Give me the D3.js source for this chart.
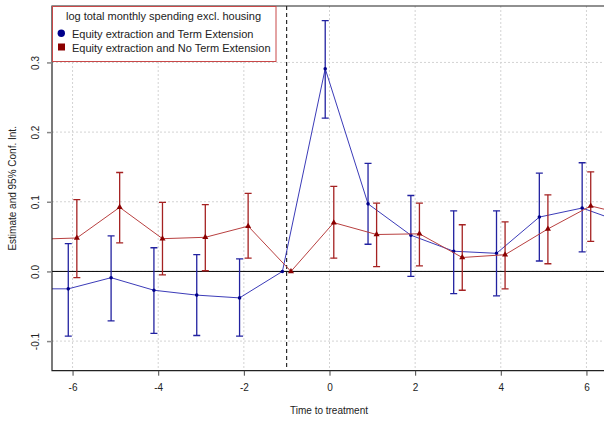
<!DOCTYPE html>
<html>
<head>
<meta charset="utf-8">
<script src="https://cdn.jsdelivr.net/npm/d3@7/dist/d3.min.js"></script>
<style>
  html, body { margin: 0; padding: 0; background: #fff; }
  svg { display: block; font-family: "Liberation Sans", Arial, sans-serif; }
</style>
</head>
<body>
<svg id="chart" width="604" height="422"></svg>
<script>
// Event-study estimates (time to treatment, relative to period -1)
const periods = [-7, -6, -5, -4, -3, -2, -1, 0, 1, 2, 3, 4, 5, 6, 7];

const termExtEst = [-0.025, -0.025, -0.009, -0.027, -0.034, -0.038, 0, 0.291, 0.097, 0.052, 0.029, 0.026, 0.078, 0.091, 0.069];
const termExtLo  = [null, -0.093, -0.071, -0.089, -0.092, -0.093, null, 0.220, 0.039, -0.007, -0.032, -0.035, 0.015, 0.028, null];
const termExtHi  = [null, 0.040, 0.051, 0.034, 0.024, 0.018, null, 0.360, 0.155, 0.109, 0.087, 0.087, 0.141, 0.156, null];

const noTermEst = [0.046, 0.048, 0.092, 0.047, 0.049, 0.065, 0, 0.070, 0.053, 0.054, 0.020, 0.024, 0.061, 0.094, 0.079];
const noTermLo  = [null, -0.009, 0.041, -0.005, 0.001, 0.019, null, 0.019, 0.007, 0.008, -0.027, -0.025, 0.011, 0.043, null];
const noTermHi  = [null, 0.103, 0.142, 0.099, 0.096, 0.112, null, 0.122, 0.098, 0.098, 0.067, 0.071, 0.110, 0.143, null];

const xTicks = [-6, -4, -2, 0, 2, 4, 6];
const yTicks = [-0.1, 0.0, 0.1, 0.2, 0.3];
const referencePeriod = -1;

const legendTitle = "log total monthly spending excl. housing";
const seriesNames = ["Equity extraction and Term Extension", "Equity extraction and No Term Extension"];

const series = [
  { name: seriesNames[0], est: termExtEst, lo: termExtLo, hi: termExtHi, shift: -0.1,
    line: "#3b3bb8", bar: "#2222a0", mark: "#00008b", shape: "circle" },
  { name: seriesNames[1], est: noTermEst, lo: noTermLo, hi: noTermHi, shift: 0.1,
    line: "#b84040", bar: "#a52222", mark: "#8b0000", shape: "triangle" }
];

// plain hyphen-minus for negative tick labels
const hyphen = f => v => f(v).replace("\u2212", "-");

const svg = d3.select("#chart");
const plot = { left: 52, top: 6, right: 604, bottom: 370.7 };

const x = d3.scaleLinear().domain([-6.48, 6.41]).range([plot.left, plot.right]);
const y = d3.scaleLinear().domain([-0.1425, 0.381]).range([plot.bottom, plot.top]);

svg.append("defs").append("clipPath").attr("id", "plotClip")
  .append("rect")
  .attr("x", plot.left).attr("y", plot.top)
  .attr("width", plot.right - plot.left).attr("height", plot.bottom - plot.top);

// grid
const grid = svg.append("g").attr("stroke", "#d3d3d3").attr("stroke-dasharray", "2,2").attr("stroke-width", 1);
xTicks.forEach(t => grid.append("line")
  .attr("x1", x(t)).attr("x2", x(t)).attr("y1", plot.top).attr("y2", plot.bottom));
yTicks.forEach(v => grid.append("line")
  .attr("x1", plot.left).attr("x2", plot.right).attr("y1", y(v)).attr("y2", y(v)));

// zero line and treatment marker
svg.append("line").attr("x1", plot.left).attr("x2", plot.right)
  .attr("y1", y(0)).attr("y2", y(0)).attr("stroke", "#000").attr("stroke-width", 1);
svg.append("line").attr("x1", x(referencePeriod)).attr("x2", x(referencePeriod))
  .attr("y1", plot.top).attr("y2", plot.bottom)
  .attr("stroke", "#000").attr("stroke-width", 1).attr("stroke-dasharray", "4,3");

const marks = svg.append("g").attr("clip-path", "url(#plotClip)");

series.forEach(s => {
  const pts = periods.map((p, i) => ({ t: p + s.shift, est: s.est[i], lo: s.lo[i], hi: s.hi[i] }));
  marks.append("path")
    .datum(pts)
    .attr("fill", "none").attr("stroke", s.line).attr("stroke-width", 1)
    .attr("d", d3.line().x(d => x(d.t)).y(d => y(d.est)));

  const ci = pts.filter(d => d.lo !== null);
  const g = marks.append("g").attr("stroke", s.bar).attr("stroke-width", 1.3);
  ci.forEach(d => {
    g.append("line").attr("x1", x(d.t)).attr("x2", x(d.t)).attr("y1", y(d.lo)).attr("y2", y(d.hi));
    g.append("line").attr("x1", x(d.t) - 3.5).attr("x2", x(d.t) + 3.5).attr("y1", y(d.lo)).attr("y2", y(d.lo));
    g.append("line").attr("x1", x(d.t) - 3.5).attr("x2", x(d.t) + 3.5).attr("y1", y(d.hi)).attr("y2", y(d.hi));
  });

  const sym = d3.symbol().type(s.shape === "circle" ? d3.symbolCircle : d3.symbolTriangle)
    .size(s.shape === "circle" ? 10 : 16);
  marks.selectAll(null).data(pts).enter().append("path")
    .attr("d", sym)
    .attr("transform", d => `translate(${x(d.t)},${y(d.est)})`)
    .attr("fill", s.mark);
});

// frame
svg.append("path")
  .attr("d", `M${plot.right + 2},${plot.top}H${plot.left}V${plot.bottom}H${plot.right + 2}`)
  .attr("fill", "none").attr("stroke", "#222").attr("stroke-width", 1.2);

// axes
const xAxis = svg.append("g").attr("transform", `translate(0,${plot.bottom})`)
  .call(d3.axisBottom(x).tickValues(xTicks).tickSize(5).tickPadding(8).tickFormat(hyphen(d3.format("d"))));
xAxis.select(".domain").remove();
xAxis.selectAll("line").attr("stroke", "#444");
xAxis.selectAll("text").attr("font-size", 10).attr("fill", "#222")
  .attr("font-family", "Liberation Sans, Arial, sans-serif");

const yAxis = svg.append("g").attr("transform", `translate(${plot.left},0)`)
  .call(d3.axisLeft(y).tickValues(yTicks).tickSize(5).tickFormat(hyphen(d3.format(".1f"))));
yAxis.select(".domain").remove();
yAxis.selectAll("line").attr("stroke", "#888").attr("stroke-width", 1.5);
yAxis.selectAll("text")
  .attr("font-size", 10).attr("fill", "#222")
  .attr("font-family", "Liberation Sans, Arial, sans-serif")
  .attr("text-anchor", "middle").attr("dy", 0).attr("x", 0)
  .attr("transform", "translate(-13,0) rotate(-90)");

svg.append("text")
  .attr("x", (plot.left + plot.right) / 2 + 1).attr("y", 414)
  .attr("text-anchor", "middle").attr("font-size", 10).attr("fill", "#222")
  .text("Time to treatment");

svg.append("text")
  .attr("transform", `translate(16,${(plot.top + plot.bottom) / 2}) rotate(-90)`)
  .attr("text-anchor", "middle").attr("font-size", 10).attr("fill", "#222")
  .text("Estimate and 95% Conf. Int.");

// legend
const lg = svg.append("g");
lg.append("rect").attr("x", 52.5).attr("y", 6.5).attr("width", 223.5).attr("height", 55)
  .attr("fill", "#fff").attr("stroke", "#c84848").attr("stroke-width", 1);
lg.append("text").attr("x", 163.5).attr("y", 20).attr("text-anchor", "middle")
  .attr("font-size", 11).attr("fill", "#222").text(legendTitle);
lg.append("circle").attr("cx", 61.3).attr("cy", 33.3).attr("r", 3.7).attr("fill", series[0].mark);
lg.append("rect").attr("x", 58).attr("y", 43.5).attr("width", 7).attr("height", 7).attr("fill", series[1].mark);
lg.append("text").attr("x", 72).attr("y", 38).attr("font-size", 11).attr("fill", "#222").text(seriesNames[0]);
lg.append("text").attr("x", 72).attr("y", 51.5).attr("font-size", 11).attr("fill", "#222").text(seriesNames[1]);
</script>
</body>
</html>
